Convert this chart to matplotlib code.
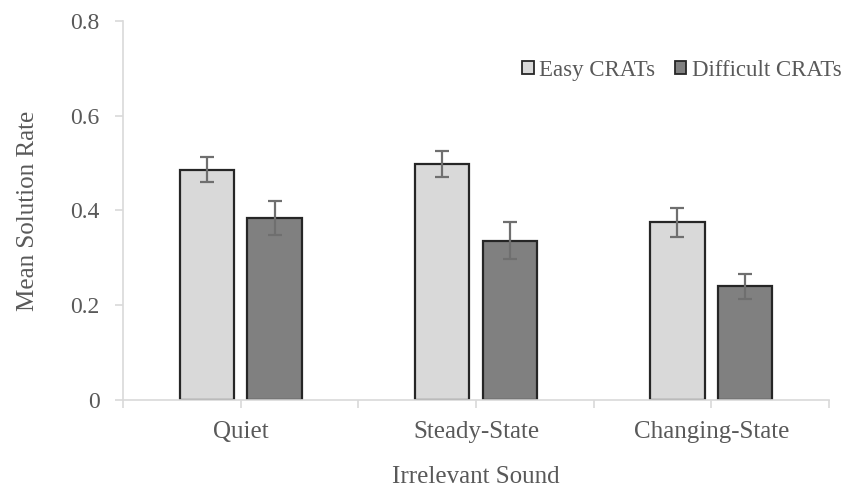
import matplotlib

matplotlib.use("Agg")
import matplotlib.pyplot as plt
import numpy as np

conditions = ["Quiet", "Steady-State", "Changing-State"]
easy_mean = [0.486, 0.498, 0.375]
easy_err = [0.026, 0.028, 0.031]
difficult_mean = [0.384, 0.336, 0.240]
difficult_err = [0.035, 0.039, 0.027]
series_labels = ["Easy CRATs", "Difficult CRATs"]
y_ticks = [0, 0.2, 0.4, 0.6, 0.8]
y_tick_labels = ["0", "0.2", "0.4", "0.6", "0.8"]

plt.rcParams["font.family"] = ["Liberation Serif", "DejaVu Serif"]

text_color = "#595959"
axis_color = "#d9d9d9"
edge_color = "#262626"
err_color = "#6f6f6f"

fig = plt.figure(figsize=(8.46, 4.91), dpi=100)
ax = fig.add_axes([123 / 846, 91 / 491, 706 / 846, 379 / 491])

x = np.arange(len(conditions))
width = 0.23
offset = 0.144

err_kw = dict(ecolor=err_color, elinewidth=1.6, capsize=5, capthick=1.6)
ax.bar(x - offset, easy_mean, width, yerr=easy_err, color="#d9d9d9",
       edgecolor=edge_color, linewidth=1.6, label=series_labels[0],
       error_kw=err_kw, zorder=2)
ax.bar(x + offset, difficult_mean, width, yerr=difficult_err, color="#808080",
       edgecolor=edge_color, linewidth=1.6, label=series_labels[1],
       error_kw=err_kw, zorder=2)

ax.set_xlim(-0.5, len(conditions) - 0.5)
ax.set_ylim(0, 0.8)
ax.set_yticks(y_ticks)
ax.set_yticklabels(y_tick_labels)
ax.set_xticks(x)
ax.set_xticklabels(conditions)
ax.set_xticks(np.arange(-0.5, len(conditions)), minor=True)

for side in ["top", "right"]:
    ax.spines[side].set_visible(False)
for side in ["left", "bottom"]:
    ax.spines[side].set_color(axis_color)
    ax.spines[side].set_linewidth(1.2)

ax.tick_params(axis="y", colors=axis_color, labelcolor=text_color,
               labelsize=17, length=6, width=1.2, pad=11)
ax.tick_params(axis="x", which="both", colors=axis_color, labelcolor=text_color,
               labelsize=18, length=6, width=1.2, pad=9)

ax.set_ylabel("Mean Solution Rate", color=text_color, fontsize=18, labelpad=22)
ax.set_xlabel("Irrelevant Sound", color=text_color, fontsize=18, labelpad=17)

leg = ax.legend(loc="upper right", bbox_to_anchor=(1.041, 0.94), ncol=2,
                frameon=False, fontsize=16.5, labelcolor=text_color,
                handlelength=0.5, handleheight=0.5, handletextpad=0.25,
                columnspacing=0.85, borderaxespad=0.3)
for h in leg.legend_handles:
    h.set_linewidth(1.3)

fig.savefig("out.png", dpi=100)
